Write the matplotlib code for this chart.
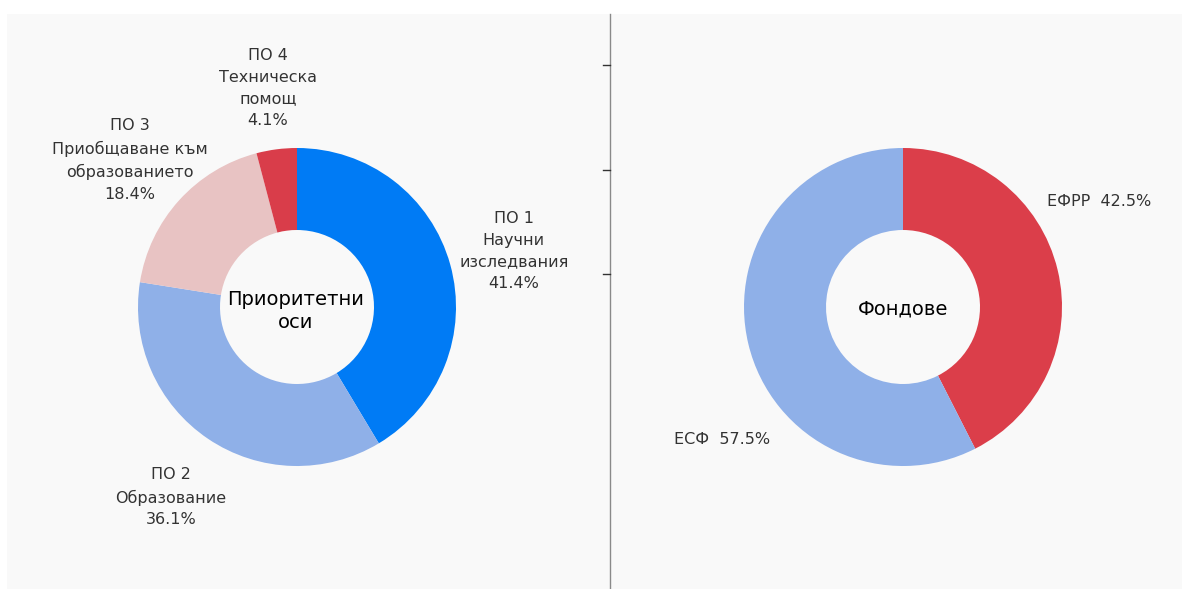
import numpy as np
import matplotlib
matplotlib.use("Agg")
import matplotlib.pyplot as plt
from matplotlib.patches import Rectangle

# ---- data ----
axis_labels = ["ПО 1\nНаучни\nизследвания", "ПО 2\nОбразование",
               "ПО 3\nПриобщаване към\nобразованието", "ПО 4\nТехническа\nпомощ"]
axis_values = [41.4, 36.1, 18.4, 4.1]
axis_colors = ["#007BF5", "#8FB0E8", "#E8C3C3", "#D93D4A"]

fund_labels = ["ЕФРР", "ЕСФ"]
fund_values = [42.5, 57.5]
fund_colors = ["#DB3E4A", "#8FB0E8"]

W, H = 1184, 589
fig = plt.figure(figsize=(W / 100, H / 100), dpi=100)
fig.patch.set_facecolor("white")
ax = fig.add_axes([0, 0, 1, 1])

# panel background
ax.add_patch(Rectangle((7, 14), 1175, 580, facecolor="#F9F9F9", edgecolor="none", zorder=0))
# divider with ticks
ax.plot([610, 610], [14, 589], color="#8A8A8A", lw=1.0, zorder=1)
for ty in [65, 170, 274]:
    ax.plot([603, 610], [ty, ty], color="#333333", lw=1.0, zorder=1)

R, RIN = 159, 77
c1 = (297, 307)
c2 = (903, 307)

# y axis is inverted below, so counterclock=True in data space appears clockwise
ax.pie(axis_values, colors=axis_colors, startangle=-90, counterclock=True,
       center=c1, radius=R, wedgeprops=dict(width=R - RIN, edgecolor="none"), frame=True)
ax.pie(fund_values, colors=fund_colors, startangle=-90, counterclock=True,
       center=c2, radius=R, wedgeprops=dict(width=R - RIN, edgecolor="none"), frame=True)
ax.set_xlim(0, W)
ax.set_ylim(H, 0)
ax.set_aspect("equal")
ax.axis("off")

txt_color = "#333333"
fs = 11.5
# left labels placed along slice mid-angles
cum = 0.0
tot = sum(axis_values)
for lab, v in zip(axis_labels, axis_values):
    mid = 90 - (cum + v / 2) / tot * 360
    cum += v
    rl = 225
    x = c1[0] + rl * np.cos(np.radians(mid))
    y = c1[1] - rl * np.sin(np.radians(mid)) + 4
    ax.text(x, y, f"{lab}\n{v:.1f}%", ha="center", va="center", fontsize=fs,
            color=txt_color, linespacing=1.55, family="DejaVu Sans")

# right labels
ax.text(1099, 201, f"{fund_labels[0]}  {fund_values[0]:.1f}%", ha="center", va="center",
        fontsize=fs, color=txt_color, family="DejaVu Sans")
ax.text(722, 440, f"{fund_labels[1]}  {fund_values[1]:.1f}%", ha="center", va="center",
        fontsize=fs, color=txt_color, family="DejaVu Sans")

# centre titles
ax.text(c1[0] - 1, c1[1] + 4, "Приоритетни\nоси", ha="center", va="center", fontsize=14,
        color="black", linespacing=1.3, family="DejaVu Sans")
ax.text(c2[0], c2[1] + 2, "Фондове", ha="center", va="center", fontsize=14,
        color="black", family="DejaVu Sans")

fig.savefig("out.png", dpi=100, facecolor="white")
